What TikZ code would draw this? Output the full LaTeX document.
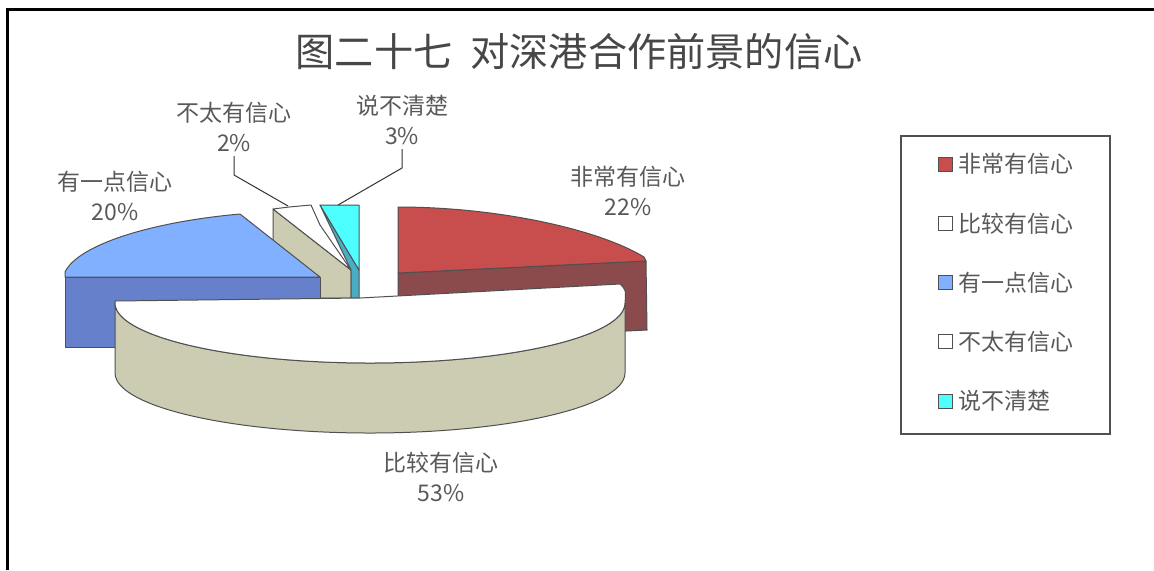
\documentclass[tikz,border=0pt]{standalone}
\usepackage{fontspec}
\setmainfont{Noto Sans CJK SC}
\usepackage{xcolor}
\usetikzlibrary{positioning, calc}
\definecolor{redtop}{RGB}{200,77,77}
\definecolor{redside}{RGB}{139,74,75}
\definecolor{bluetop}{RGB}{128,176,255}
\definecolor{blueside}{RGB}{102,128,204}
\definecolor{beigeside}{RGB}{204,204,178}
\definecolor{cyantop}{RGB}{77,255,255}
\definecolor{cyanside}{RGB}{75,172,198}
\definecolor{edgegray}{RGB}{80,80,80}
\definecolor{textgray}{RGB}{89,89,89}
\tikzstyle{face} = [draw=edgegray, line width=0.5pt, line join=round]
\tikzstyle{slicelabel} = [align=center, text=textgray, font=\fontsize{11.5}{15}\selectfont, inner sep=2pt]
\tikzstyle{leader} = [draw=black!80, line width=0.5pt]
\tikzstyle{legendkey} = [draw=edgegray, line width=0.5pt, minimum size=7pt, inner sep=0pt]
\tikzstyle{legendtext} = [text=textgray, font=\fontsize{11.5}{14}\selectfont, inner sep=1pt]

\begin{document}
\begin{tikzpicture}[x=0.5pt, y=-0.5pt]
\useasboundingbox (0,0) rectangle (1154,570);
% Frame and title
\draw[line width=1.5pt] (7,570) -- (7,9) -- (1154,9);
\node (title) [text=black!72, font=\fontsize{19.6}{22}\selectfont] at (579,52) {图二十七\hspace{9pt}对深港合作前景的信心};

% Slices, back to front
\draw[face, fill=redside] (398,273) -- (646,261) -- (647,330) -- (398,342) -- cycle;
\draw[face, fill=redtop] (398,273) -- (398,207) .. controls (500,207) and (600,230) .. (644,257) -- (646,261) -- cycle;
\draw[face, fill=beigeside] (273,209) -- (351,270) -- (351,298) -- (273,298) -- cycle;
\draw[face, fill=white] (273,209) -- (289,207) -- (311,205) -- (320,225) -- (351,270) -- cycle;
\draw[face, fill=cyanside] (320,205) -- (351,270) -- (351,298) -- (359,298) -- (359,270) -- cycle;
\draw[face, fill=cyantop] (320,205) -- (359,205) -- (359,270) -- cycle;
\draw[face, fill=blueside] (65,277) rectangle (320,347);
\draw[face, fill=bluetop] (65,277) -- (65,272) .. controls (78,245) and (150,222) .. (240,214) -- (320,277) -- cycle;
\draw[face, fill=beigeside] (625,303) -- (625,373)
  -- plot[domain=0:180, samples=50, smooth] ({370+255*cos(\x)}, {373+60*sin(\x)})
  -- (115,303)
  -- plot[domain=180:0, samples=50, smooth] ({370+255*cos(\x)}, {303+60*sin(\x)}) -- cycle;
\draw[face, fill=white] (115,301) -- (360,298) -- (620,284) .. controls (626,290) .. (625,303)
  -- plot[domain=0:180, samples=50, smooth] ({370+255*cos(\x)}, {303+60*sin(\x)}) -- cycle;

% Labels
\node (lblVery) [slicelabel] at (628,191) {非常有信心\\22\%};
\node (lblFair) [slicelabel] at (441,477) {比较有信心\\53\%};
\node (lblSome) [slicelabel] at (115,196) {有一点信心\\20\%};
\node (lblLittle) [slicelabel] at (234,127) {不太有信心\\2\%};
\node (lblUnsure) [slicelabel] at (402,120) {说不清楚\\3\%};

% Leader lines
\coordinate (bendLittle) at (234,175);
\coordinate (tipLittle) at (288,206);
\coordinate (bendUnsure) at (402,168);
\coordinate (tipUnsure) at (338,205);
\draw[leader] (lblLittle.south) -- (bendLittle) -- (tipLittle);
\draw[leader] (lblUnsure.south) -- (bendUnsure) -- (tipUnsure);

% Legend
\draw[draw=edgegray, line width=0.6pt] (901,136) rectangle (1110,434);
\foreach \col/\name [count=\i from 0] in {redtop/非常有信心, white/比较有信心, bluetop/有一点信心, white/不太有信心, cyantop/说不清楚} {
  \node (key\i) [legendkey, fill=\col] at (945,{164+59.3*\i}) {};
  \node (item\i) [legendtext, right=2pt of key\i] {\name};
}
\end{tikzpicture}
\end{document}
